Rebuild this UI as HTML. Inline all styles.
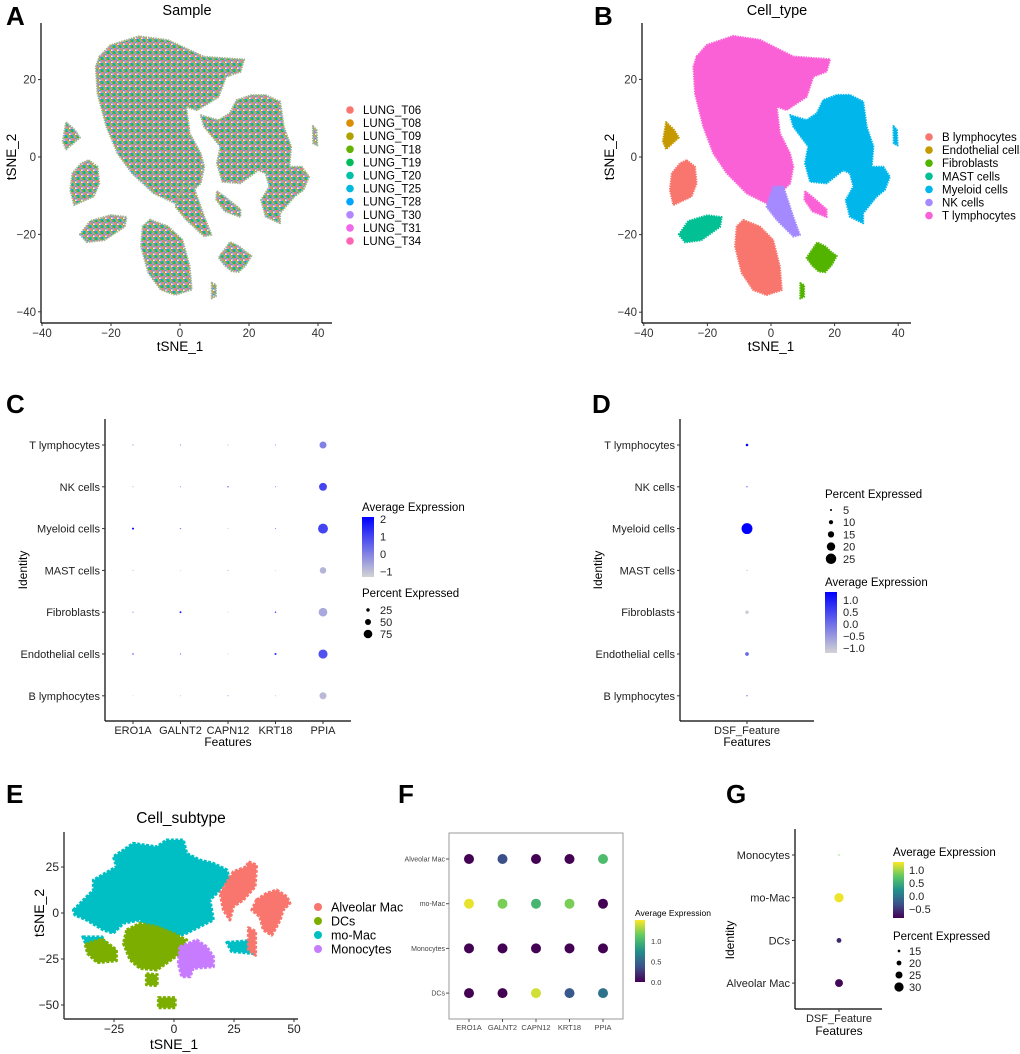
<!DOCTYPE html>
<html><head><meta charset="utf-8"><style>
body{margin:0;background:#fff}
svg{display:block;font-family:"Liberation Sans",Arial,sans-serif}
</style></head><body>
<svg id="fig" width="1020" height="1054" viewBox="0 0 1020 1054" xmlns="http://www.w3.org/2000/svg">
<defs>
<pattern id="mix" width="6" height="6" patternUnits="userSpaceOnUse">
<rect width="6" height="6" fill="#a4b58f"/>
<rect x="0" y="0" width="1.5" height="1.5" fill="#F8766D"/><rect x="3" y="0" width="1.5" height="1.5" fill="#00BADE"/>
<rect x="1.5" y="1.5" width="1.5" height="1.5" fill="#AEA200"/><rect x="4.5" y="1.5" width="1.5" height="1.5" fill="#EF67EB"/>
<rect x="0" y="3" width="1.5" height="1.5" fill="#00C1A7"/><rect x="3" y="3" width="1.5" height="1.5" fill="#DB8E00"/>
<rect x="1.5" y="4.5" width="1.5" height="1.5" fill="#B385FF"/><rect x="4.5" y="4.5" width="1.5" height="1.5" fill="#64B200"/>
<rect x="4.5" y="3" width="1.5" height="1.5" fill="#00A6FF"/><rect x="1.5" y="0" width="1.5" height="1.5" fill="#FF63B6"/>
<rect x="0" y="4.5" width="1.5" height="1.5" fill="#00BD5C"/><rect x="3" y="1.5" width="1.5" height="1.5" fill="#ffffff"/>
</pattern>
<linearGradient id="gradC" x1="0" y1="1" x2="0" y2="0"><stop offset="0" stop-color="#D3D3D3"/><stop offset="1" stop-color="#0000FF"/></linearGradient>
<linearGradient id="vir" x1="0" y1="1" x2="0" y2="0"><stop offset="0" stop-color="#440154"/><stop offset="0.25" stop-color="#3b528b"/><stop offset="0.5" stop-color="#21918c"/><stop offset="0.75" stop-color="#5ec962"/><stop offset="1" stop-color="#fde725"/></linearGradient>
</defs>
<g id="root"></g>
</svg>
<script>
// ---------- data ----------
const tsneXTicks = [-40, -20, 0, 20, 40];
const tsneYTicks = [-40, -20, 0, 20];
const sampleNames = ["LUNG_T06","LUNG_T08","LUNG_T09","LUNG_T18","LUNG_T19","LUNG_T20","LUNG_T25","LUNG_T28","LUNG_T30","LUNG_T31","LUNG_T34"];
const sampleColors = ["#F8766D","#DB8E00","#AEA200","#64B200","#00BD5C","#00C1A7","#00BADE","#00A6FF","#B385FF","#EF67EB","#FF63B6"];
const cellTypes = ["B lymphocytes","Endothelial cells","Fibroblasts","MAST cells","Myeloid cells","NK cells","T lymphocytes"];
const cellColors = ["#F8766D","#C49A00","#53B400","#00C094","#00B6EB","#A58AFF","#FB61D7"];
const clusters = [
 [6, [[-23.4,25.9],[-20.2,28.9],[-11.9,31.2],[-3.5,30.2],[7.0,25.9],[18.6,25.2],[17.5,22.0],[13.3,20.7],[11.2,15.5],[4.9,12.1],[1.8,13.0],[2.8,6.1],[6.0,0.9],[7.0,-2.5],[6.0,-6.8],[3.9,-8.5],[0.7,-12.8],[-7.6,-9.4],[-13.9,-4.2],[-18.1,0.9],[-21.3,7.8],[-23.9,16.4],[-24.4,23.3]]],
 [5, [[0.7,-7.6],[3.9,-7.6],[7.0,-15.4],[9.1,-20.1],[7.0,-20.5],[1.8,-16.2],[-1.4,-12.8]]],
 [4, [[11.2,9.5],[14.4,11.3],[16.4,14.7],[20.7,16.0],[24.8,16.0],[29.0,14.3],[30.1,7.8],[32.2,2.7],[31.7,-2.5],[35.3,-2.5],[37.4,-5.1],[35.8,-8.5],[33.2,-10.2],[29.0,-14.5],[29.0,-17.1],[24.8,-15.4],[23.5,-11.1],[25.9,-7.6],[24.8,-4.2],[22.7,-3.4],[17.5,-6.8],[12.3,-6.4],[10.7,-1.6],[11.7,2.7],[7.0,7.8],[6.0,10.8]]],
 [4, [[38.5,8],[39.6,7],[39.8,3],[38.6,3.5]]],
 [6, [[10.7,-8.8],[13.3,-10.5],[17.5,-13.5],[17.5,-15.5],[13,-14],[10.5,-11]]],
 [0, [[-8.7,-16.2],[-3.5,-17.9],[0.7,-21.4],[2.8,-28.3],[3.4,-34.3],[-1.4,-35.6],[-5.6,-34.3],[-9.2,-29.9],[-11.3,-23.1],[-10.8,-17.9]]],
 [0, [[-26.5,-0.8],[-23.9,-2.5],[-23.4,-6.8],[-25.0,-10.2],[-30.7,-12.4],[-31.8,-8.5],[-31.2,-4.2],[-28.6,-1.6]]],
 [1, [[-33,9],[-30.5,7],[-29,5],[-31,3.5],[-33,2],[-34,4]]],
 [3, [[-29,-20],[-26,-16.5],[-20,-15],[-15.5,-15.5],[-16,-18],[-22,-21.5],[-27,-22]]],
 [2, [[12,-25],[14.5,-22],[17,-23],[19,-24.5],[20.7,-25.5],[19,-28],[17,-29.7],[15,-29.5],[13,-28],[11.2,-26]]],
 [2, [[9.2,-32.5],[10.4,-33],[10.4,-36],[9.2,-36.5]]]
];
const cRows = ["T lymphocytes","NK cells","Myeloid cells","MAST cells","Fibroblasts","Endothelial cells","B lymphocytes"];
const cFeatures = ["ERO1A","GALNT2","CAPN12","KRT18","PPIA"];
const cAvg = [[0.5,0.5,-0.5,0,0.0],[-0.3,0.2,1.8,0.3,1.0],[2,0.2,-0.8,0,1.0],[-0.5,-1,-0.3,-1,-0.8],[0.3,1.8,-1,1.5,-0.6],[1.2,0.5,-1,1.5,0.8],[-1,-0.5,0.2,-0.5,-0.9]];
const cPct = [[3,3,2,3,60],[2,2,4,2,68],[12,5,2,3,88],[2,1,2,1,55],[3,10,1,6,75],[6,4,1,12,80],[1,1,2,1,60]];
const cAvgTicks = [2,1,0,-1];
const cPctTicks = [25,50,75];
const dRows = cRows;
const dAvg = [1.2,0.3,1.2,-0.5,-1.1,0.0,0.2];
const dPct = [6,3,26,1.5,8,9,3];
const dPctTicks = [5,10,15,20,25];
const dAvgTicks = ["1.0","0.5","0.0","-0.5","-1.0"];
const subTypes = ["Alveolar Mac","DCs","mo-Mac","Monocytes"];
const subColors = ["#F8766D","#7CAE00","#00BFC4","#C77CFF"];
const eXTicks = [-25,0,25,50];
const eYTicks = [25,0,-25,-50];
const subClusters = [
 [2, [[-41.9,1.6],[-33.6,12.5],[-33.6,17.9],[-23.9,25.2],[-25.3,30.6],[-21.1,34.2],[-17.0,37.9],[-7.2,36.0],[-3.1,39.7],[3.9,39.7],[5.3,32.4],[10.8,28.8],[16.4,27.0],[22.0,23.4],[23.3,17.9],[19.2,12.5],[15.0,7.1],[16.4,-3.8],[10.8,-7.4],[5.3,-11.0],[1.1,-12.9],[-5.8,-9.2],[-11.4,-7.4],[-14.2,-3.8],[-21.1,-5.6],[-25.3,-11.0],[-29.5,-9.2],[-36.4,-3.8],[-41.3,-1.1]]],
 [2, [[-38,-13],[-30,-13],[-28,-18],[-36,-19]]],
 [2, [[22,-16],[32,-15],[33,-22],[24,-21]]],
 [0, [[19.2,10.7],[24.7,22.4],[30.3,25.2],[31.0,27.9],[34.4,26.1],[33.8,14.3],[28.9,7.1],[24.7,3.4],[23.3,-3.8],[20.6,1.6]]],
 [0, [[34.4,7.1],[38.6,10.7],[42.8,12.5],[47.0,8.9],[48.3,5.3],[45.5,1.6],[44.2,-3.8],[42.8,-7.4],[40.7,-12.0],[37.2,-9.2],[35.8,-2.0],[32.4,1.6]]],
 [0, [[31,-8],[34,-10],[34,-23],[31,-20]]],
 [1, [[-19.7,-9.2],[-14.2,-5.6],[-7.2,-7.4],[-0.3,-11.0],[5.3,-14.7],[2.5,-21.9],[-3.1,-27.3],[-7.2,-31.0],[-14.2,-30.1],[-18.3,-25.5],[-21.1,-16.5]]],
 [1, [[-37,-17],[-30,-14],[-24,-20],[-24,-26],[-32,-27],[-36,-22]]],
 [1, [[-11.5,-33],[-7,-33.5],[-7,-39.5],[-11.5,-39]]],
 [1, [[-6.5,-46],[0.5,-46],[0.5,-51.5],[-6.5,-51.5]]],
 [3, [[2.5,-18.3],[9.5,-14.7],[13.6,-18.3],[16.4,-23.7],[16.4,-29.2],[8.0,-30.1],[6.7,-34.6],[3.2,-34.6],[1.8,-27.3]]]
];
const fRows = ["Alveolar Mac","mo-Mac","Monocytes","DCs"];
const fFeatures = ["ERO1A","GALNT2","CAPN12","KRT18","PPIA"];
const fAvg = [[0,0.35,0,0,1.0],[1.4,1.15,0.95,1.15,0],[0,0,0,0,0],[0,0,1.35,0.4,0.55]];
const fTicks = ["1.0","0.5","0.0"];
const gRows = ["Monocytes","mo-Mac","DCs","Alveolar Mac"];
const gAvg = [0.8,1.2,-0.6,-0.8];
const gPct = [12,30,20,27];
const gAvgTicks = ["1.0","0.5","0.0","-0.5"];
const gPctTicks = [15,20,25,30];

// ---------- helpers ----------
const NS = "http://www.w3.org/2000/svg";
const root = document.getElementById("root");
function mk(tag, attrs, parent){ const e=document.createElementNS(NS,tag); for(const k in attrs) e.setAttribute(k,attrs[k]); (parent||root).appendChild(e); return e; }
function txt(s, x, y, size, anchor, extra){ const a=Object.assign({x:x,y:y,"font-size":size,"text-anchor":anchor||"start",fill:"#000"},extra||{}); const e=mk("text",a); e.textContent=s; return e; }
function lerpHex(a,b,t){ t=Math.max(0,Math.min(1,t)); const pa=[1,3,5].map(i=>parseInt(a.substr(i,2),16)); const pb=[1,3,5].map(i=>parseInt(b.substr(i,2),16)); return "rgb("+pa.map((v,i)=>Math.round(v+(pb[i]-v)*t)).join(",")+")"; }
const virStops=["#440154","#3b528b","#21918c","#5ec962","#fde725"];
function viridis(t){ t=Math.max(0,Math.min(1,t)); const s=t*4; const i=Math.min(3,Math.floor(s)); return lerpHex(virStops[i],virStops[i+1],s-i); }
function line(x1,y1,x2,y2,col,w){ return mk("line",{x1:x1,y1:y1,x2:x2,y2:y2,stroke:col||"#000","stroke-width":w||1}); }

[["A",6,25],["B",594,25],["C",6,413],["D",592,413],["E",6,803],["F",398,803],["G",726,803]].forEach(p=>{
  const e=txt(p[0],p[1],p[2],26,"start",{"font-weight":"bold"});
  
  
});

function tsnePanel(cfg){
  const sx=t=>cfg.x0+cfg.kx*t, sy=t=>cfg.y0-cfg.ky*t;
  clusters.forEach((c,i)=>{
    const pts=c[1].map(p=>sx(p[0]).toFixed(1)+","+sy(p[1]).toFixed(1)).join(" ");
    const col = cfg.mixed ? "url(#mix)" : cellColors[c[0]];
    const e=mk("polygon",{points:pts,fill:col,stroke:cfg.mixed?"#9fb28f":cellColors[c[0]],"stroke-width":2,"stroke-dasharray":"1.5 1","stroke-linejoin":"round"});
    
    
  });
  const ya=line(cfg.ax,cfg.top,cfg.ax,cfg.bot,"#000",1.2);
  
  
  const xa=line(cfg.ax,cfg.bot,cfg.right,cfg.bot,"#000",1.2);
  
  
  tsneXTicks.forEach(t=>{
    line(sx(t),cfg.bot,sx(t),cfg.bot+3,"#333");
    const a=txt(String(t).replace("-","\u2212"),sx(t),cfg.bot+14,11.5,"middle",{fill:"#333"});
    
    
  });
  tsneYTicks.forEach(t=>{
    line(cfg.ax-3,sy(t),cfg.ax,sy(t),"#333");
    const b=txt(String(t).replace("-","\u2212"),cfg.ax-5,sy(t)+4,11.5,"end",{fill:"#333"});
    
    
  });
  const xt=txt("tSNE_1",sx(0),cfg.bot+28,13.5,"middle");
  
  
  const yt=txt("tSNE_2",0,0,13.5,"middle",{transform:"translate("+cfg.ytx+","+sy(0)+") rotate(-90)"});
  
  
  const ti=txt(cfg.title,cfg.tx,15,14.5,"middle");
  
  
  cfg.names.forEach((n,i)=>{
    const y=cfg.ly+cfg.ls*i;
    const d=mk("circle",{cx:cfg.lx,cy:y,r:3.8,fill:cfg.colors[i]});
    
    
    const t=txt(n,cfg.lx+13,y+4,11.5,"start");
    
    
  });
}
tsnePanel({id:"a",x0:180,kx:3.45,y0:157,ky:3.87,ax:41,top:23,bot:323,right:332,ytx:16,tx:187,title:"Sample",mixed:true,names:sampleNames,colors:sampleColors,lx:350,ly:110,ls:13.1});
tsnePanel({id:"b",x0:771,kx:3.18,y0:157,ky:3.88,ax:642,top:23,bot:323,right:911,ytx:614,tx:777,title:"Cell_type",mixed:false,names:cellTypes,colors:cellColors,lx:929,ly:137,ls:13.1});

// ---------- C ----------
(function(){
  const ax=105, top=419, bot=721, right=351;
  const rowY=i=>445+i*41.8, colX=j=>133+j*47.5;
  const col=v=>lerpHex("#D3D3D3","#0000FF",(v+1.3)/3.4);
  const rad=p=>0.4+0.052*p;
  cRows.forEach((r,i)=>cFeatures.forEach((f,j)=>{
    const c=mk("circle",{cx:colX(j),cy:rowY(i),r:rad(cPct[i][j]),fill:col(cAvg[i][j])});
    
    
  }));
  line(ax,top,ax,bot,"#000",1.2); line(ax,bot,right,bot,"#000",1.2);
  cRows.forEach((r,i)=>{ line(ax-3,rowY(i),ax,rowY(i),"#333");
    const t=txt(r,ax-5,rowY(i)+4,11,"end",{fill:"#222"});
    
     });
  cFeatures.forEach((f,j)=>{ line(colX(j),bot,colX(j),bot+3,"#333");
    const t=txt(f,colX(j),bot+13,11,"middle",{fill:"#222"});
    
     });
  const ft=txt("Features",228,bot+25,12,"middle");  
  const it=txt("Identity",0,0,12,"middle",{transform:"translate(27,570) rotate(-90)"});  
  const lt=txt("Average Expression",362,511,11.5,"start");  
  const cb=mk("rect",{x:362,y:517,width:12,height:60,fill:"url(#gradC)"});  
  cAvgTicks.forEach(v=>{ const y=577-60*(v+1.3)/3.4; const t=txt(String(v).replace("-","\u2212"),380,y+4,11,"start",{fill:"#222"});   });
  const pt=txt("Percent Expressed",362,597,11.5,"start");  
  cPctTicks.forEach((p,i)=>{ const y=610+12*i; const c=mk("circle",{cx:368,cy:y,r:rad(p),fill:"#000"});  
    const t=txt(String(p),380,y+4,11,"start",{fill:"#222"});   });
})();

// ---------- D ----------
(function(){
  const ax=680, top=419, bot=721, right=814, cx=747;
  const rowY=i=>445+i*41.8;
  const col=v=>lerpHex("#D3D3D3","#0000FF",(v+1.2)/2.4);
  const rad=p=>0.21*p;
  dRows.forEach((r,i)=>{ const c=mk("circle",{cx:cx,cy:rowY(i),r:Math.max(0.5,rad(dPct[i])),fill:col(dAvg[i])});
    
     });
  line(ax,top,ax,bot,"#000",1.2); line(ax,bot,right,bot,"#000",1.2);
  dRows.forEach((r,i)=>{ line(ax-3,rowY(i),ax,rowY(i),"#333");
    const t=txt(r,ax-5,rowY(i)+4,11,"end",{fill:"#222"});
    
     });
  line(cx,bot,cx,bot+3,"#333");
  const fl=txt("DSF_Feature",cx,bot+13,11,"middle",{fill:"#222"});  
  const ft=txt("Features",cx,bot+25,12,"middle");  
  const it=txt("Identity",0,0,12,"middle",{transform:"translate(602,570) rotate(-90)"});  
  const pt=txt("Percent Expressed",825,498,11.5,"start");  
  dPctTicks.forEach((p,i)=>{ const y=510+12.2*i; const c=mk("circle",{cx:831,cy:y,r:rad(p),fill:"#000"});  
    const t=txt(String(p),843,y+4,11,"start",{fill:"#222"});   });
  const lt=txt("Average Expression",825,586,11.5,"start");  
  const cb=mk("rect",{x:825,y:592,width:12,height:61,fill:"url(#gradC)"});  
  dAvgTicks.forEach((v,i)=>{ const y=600+12*i; const t=txt(v.replace("-","\u2212"),843,y+4,11,"start",{fill:"#222"});   });
})();

// ---------- E ----------
(function(){
  const sx=t=>174+2.4*t, sy=t=>913-1.84*t;
  const ax=64, top=832, bot=1019, right=298;
  subClusters.forEach((c,i)=>{
    const pts=c[1].map(p=>sx(p[0]).toFixed(1)+","+sy(p[1]).toFixed(1)).join(" ");
    const e=mk("polygon",{points:pts,fill:subColors[c[0]],stroke:subColors[c[0]],"stroke-width":3,"stroke-dasharray":"3 1.5","stroke-linejoin":"round"});
    
    
  });
  line(ax,top,ax,bot,"#333",1.4); line(ax,bot,right,bot,"#333",1.4);
  eXTicks.forEach(t=>{ line(sx(t),bot,sx(t),bot+3,"#333");
    const a=txt(String(t).replace("-","\u2212"),sx(t),bot+14,12,"middle",{fill:"#222"});   });
  eYTicks.forEach(t=>{ line(ax-3,sy(t),ax,sy(t),"#333");
    const a=txt(String(t).replace("-","\u2212"),ax-5,sy(t)+4,12,"end",{fill:"#222"});   });
  const xt=txt("tSNE_1",174,1049,14,"middle");  
  const yt=txt("tSNE_2",0,0,14,"middle",{transform:"translate(44,913) rotate(-90)"});  
  const ti=txt("Cell_subtype",181,823,15.5,"middle");  
  subTypes.forEach((n,i)=>{ const y=907+14*i;
    const d=mk("circle",{cx:318,cy:y,r:4,fill:subColors[i]});  
    const t=txt(n,331,y+4.5,12.5,"start");   });
})();

// ---------- F ----------
(function(){
  const colX=j=>469+j*33.5, rowY=i=>859+i*44.7;
  const box=mk("rect",{x:449,y:833,width:174,height:186,fill:"none",stroke:"#9a9a9a","stroke-width":1});
   
  fRows.forEach((r,i)=>fFeatures.forEach((f,j)=>{
    const c=mk("circle",{cx:colX(j),cy:rowY(i),r:5,fill:viridis(fAvg[i][j]/1.45)});
    
    
  }));
  fRows.forEach((r,i)=>{ line(446,rowY(i),449,rowY(i),"#555");
    const t=txt(r,445,rowY(i)+2.5,7,"end",{fill:"#444"});   });
  fFeatures.forEach((f,j)=>{ line(colX(j),1019,colX(j),1022,"#555");
    const t=txt(f,colX(j),1030,7.5,"middle",{fill:"#444"});   });
  const lt=txt("Average Expression",635,916,8.5,"start");  
  const cb=mk("rect",{x:635,y:920,width:10,height:62,fill:"url(#vir)"});  
  fTicks.forEach((v,i)=>{ const y=941+20.5*i; const t=txt(v,651,y+3,7.5,"start",{fill:"#333"});   });
})();

// ---------- G ----------
(function(){
  const ax=795, top=829, bot=1009, right=882, cx=839;
  const rowY=i=>855+i*42.7;
  const rad=p=>Math.max(0.5,(p-9)*0.22);
  gRows.forEach((r,i)=>{ const c=mk("circle",{cx:cx,cy:rowY(i),r:rad(gPct[i]),fill:viridis((gAvg[i]+0.85)/2.1)});
    
     });
  line(ax,top,ax,bot,"#000",1.2); line(ax,bot,right,bot,"#000",1.2);
  gRows.forEach((r,i)=>{ line(ax-3,rowY(i),ax,rowY(i),"#333");
    const t=txt(r,ax-5,rowY(i)+4,11,"end",{fill:"#222"});   });
  line(cx,bot,cx,bot+3,"#333");
  const fl=txt("DSF_Feature",cx,1022,11,"middle",{fill:"#222"});  
  const ft=txt("Features",cx,1035,12,"middle");  
  const it=txt("Identity",0,0,12,"middle",{transform:"translate(734,940) rotate(-90)"});  
  const lt=txt("Average Expression",893,856,11.5,"start");  
  const cb=mk("rect",{x:893,y:862,width:11,height:56,fill:"url(#vir)"});  
  gAvgTicks.forEach((v,i)=>{ const y=870+13*i; const t=txt(v.replace("-","\u2212"),909,y+4,11,"start",{fill:"#222"});   });
  const pt=txt("Percent Expressed",893,940,11.5,"start");  
  gPctTicks.forEach((p,i)=>{ const y=951+12*i; const c=mk("circle",{cx:899,cy:y,r:rad(p),fill:"#000"});  
    const t=txt(String(p),909,y+4,11,"start",{fill:"#222"});   });
})();
</script>
</body></html>
